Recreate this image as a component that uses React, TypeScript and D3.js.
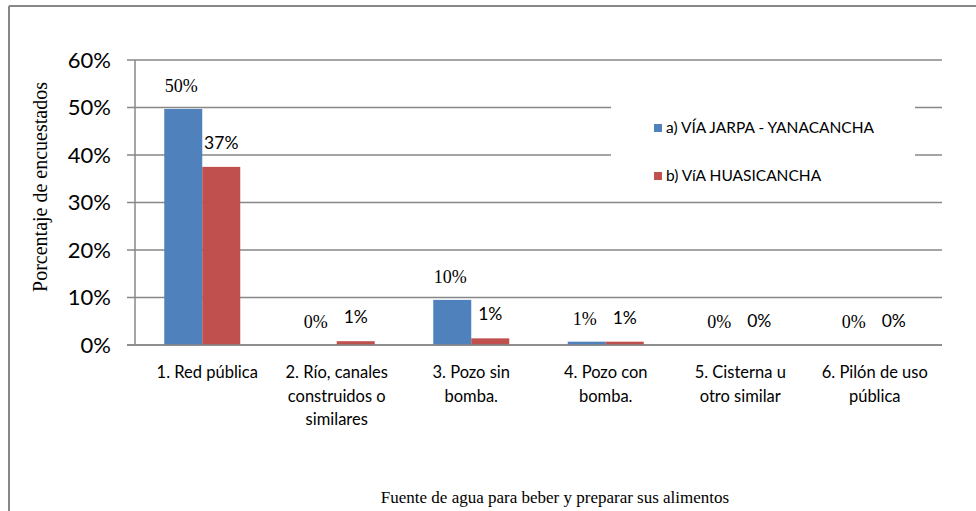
import React from "react";
import * as d3 from "d3";

const categories: string[][] = [
  ["1.  Red pública"],
  ["2. Río, canales", "construidos o", "similares"],
  ["3. Pozo sin", "bomba."],
  ["4. Pozo con", "bomba."],
  ["5. Cisterna u", "otro similar"],
  ["6. Pilón de uso", "pública"],
];
const seriesA = [49.7, 0, 9.5, 0.7, 0, 0];
const seriesB = [37.5, 0.8, 1.4, 0.7, 0, 0];
const labelsA = ["50%", "0%", "10%", "1%", "0%", "0%"];
const labelsB = ["37%", "1%", "1%", "1%", "0%", "0%"];
const yTicks = [0, 10, 20, 30, 40, 50, 60];
const seriesNames = ["a) VÍA JARPA - YANACANCHA", "b) VíA HUASICANCHA"];

const W = 976, H = 511;
const BLUE = "#4F81BD", RED = "#C0504D", GRID = "#878787";
const SANS = "Lato, 'Open Sans', sans-serif";
const SERIF = "'Liberation Serif', 'DejaVu Serif', serif";

export default function App() {
  const x0 = 135, x1 = 942, yTop = 60, yBot = 345;
  const x = d3.scaleBand<number>().domain(d3.range(categories.length)).range([x0, x1]);
  const y = d3.scaleLinear().domain([0, 60]).range([yBot, yTop]);
  const bw = 38;
  return (
    <svg width={W} height={H} style={{ position: "absolute", left: 0, top: 0, background: "#fff" }}>
      <rect x={0} y={0} width={W} height={H} fill="#fff" />
      <line x1={9} y1={6} x2={W} y2={6} stroke={GRID} strokeWidth={2} />
      <line x1={9} y1={6} x2={9} y2={H} stroke={GRID} strokeWidth={2} />
      {yTicks.map((t) => (
        <g key={t}>
          <line x1={127} x2={x1} y1={y(t)} y2={y(t)} stroke={GRID} strokeWidth={1.5} />
          <text x={111} y={y(t)} dy="0.36em" textAnchor="end" fontFamily={SANS} fontSize={22} fill="#000">
            {t}%
          </text>
        </g>
      ))}
      <line x1={x0} x2={x0} y1={yTop} y2={yBot} stroke={GRID} strokeWidth={1.5} />
      {categories.map((c, i) => {
        const cx = (x(i) as number) + x.bandwidth() / 2;
        return (
          <g key={i}>
            <rect x={cx - bw} y={y(seriesA[i])} width={bw} height={yBot - y(seriesA[i])} fill={BLUE} />
            <rect x={cx} y={y(seriesB[i])} width={bw} height={yBot - y(seriesB[i])} fill={RED} />
            <text x={cx - bw / 2 - 2} y={y(seriesA[i]) - 17} textAnchor="middle" fontFamily={SERIF} fontSize={18} fill="#000">
              {labelsA[i]}
            </text>
            <text x={cx + bw / 2} y={y(seriesB[i]) - 18} textAnchor="middle" fontFamily={SANS} fontSize={17.5} fill="#000">
              {labelsB[i]}
            </text>
            {c.map((line, j) => (
              <text key={j} x={cx + (i === 0 ? 5 : 0)} y={378 + j * 23.5} textAnchor="middle" fontFamily={SANS} fontSize={16.5} fill="#000">
                {line}
              </text>
            ))}
          </g>
        );
      })}
      <line x1={127} x2={x1} y1={yBot} y2={yBot} stroke={GRID} strokeWidth={1.5} />
      <rect x={611} y={92} width={304} height={108} fill="#fff" />
      <rect x={654} y={124} width={8} height={8} fill={BLUE} />
      <text x={666} y={133} fontFamily={SANS} fontSize={15.5} fill="#000">{seriesNames[0]}</text>
      <rect x={654} y={172} width={8} height={8} fill={RED} />
      <text x={666} y={181} fontFamily={SANS} fontSize={15.5} fill="#000">{seriesNames[1]}</text>
      <text transform={`translate(40,187) rotate(-90)`} textAnchor="middle" dy="0.35em" fontFamily={SERIF} fontSize={20} fill="#000">
        Porcentaje de encuestados
      </text>
      <text x={555} y={503} textAnchor="middle" fontFamily={SERIF} fontSize={17} fill="#000">
        Fuente de agua para beber y preparar sus alimentos
      </text>
    </svg>
  );
}
